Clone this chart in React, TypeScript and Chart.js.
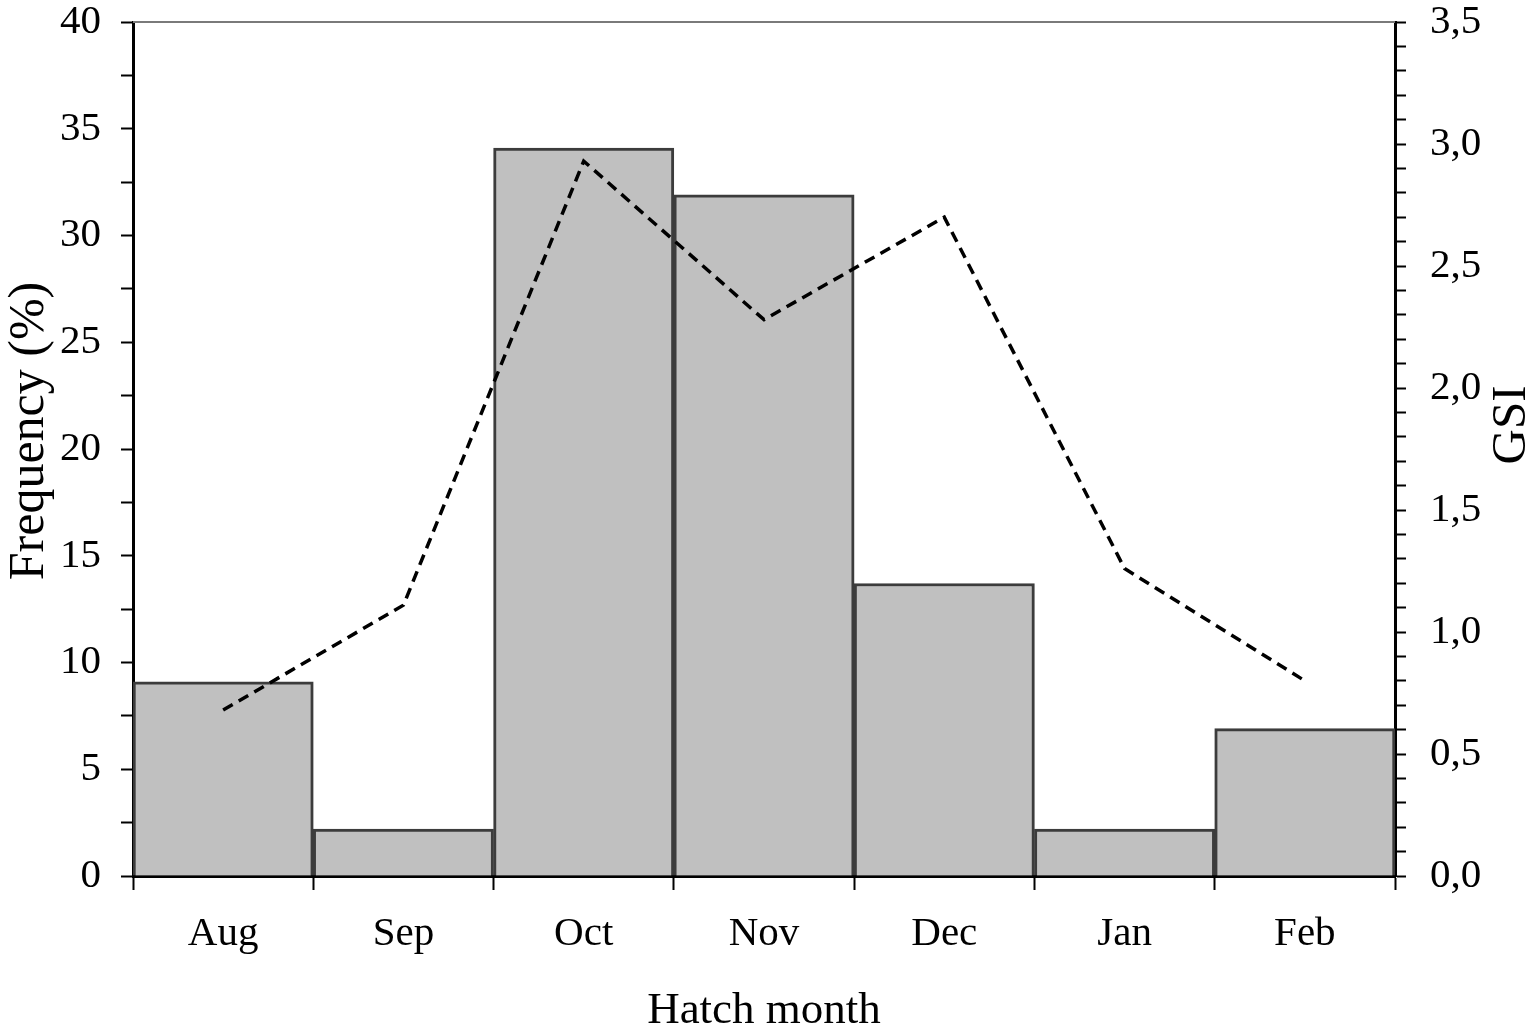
import { useEffect, useRef } from 'react';
import { Chart, registerables } from 'chart.js';

Chart.register(...registerables);

const months = ['Aug', 'Sep', 'Oct', 'Nov', 'Dec', 'Jan', 'Feb'];
const frequency = [9.1, 2.2, 34.1, 31.9, 13.7, 2.2, 6.9];
const gsi = [0.68, 1.11, 2.93, 2.28, 2.7, 1.26, 0.8];

const FONT = "'Liberation Serif', 'Times New Roman', serif";

const isMultiple = (v: number, step: number) =>
  Math.abs(v / step - Math.round(v / step)) < 1e-6;

// fixed axis widths, and no extra room reserved for the end labels
const fitY = (width: number) => (s: any) => {
  s.width = width;
  s.paddingTop = 0;
  s.paddingBottom = 0;
};

const drawVertical = (ctx: CanvasRenderingContext2D, text: string, x: number, y: number, size: number) => {
  ctx.save();
  ctx.translate(x, y);
  ctx.rotate(-Math.PI / 2);
  ctx.fillStyle = '#000';
  ctx.font = `${size}px ${FONT}`;
  ctx.textAlign = 'center';
  ctx.textBaseline = 'middle';
  ctx.fillText(text, 0, 0);
  ctx.restore();
};

// top frame line + both vertical axis titles (read bottom-to-top)
const framePlugin = {
  id: 'frame',
  afterDraw(chart: Chart) {
    const { ctx, chartArea } = chart;
    ctx.save();
    ctx.strokeStyle = '#7a7a7a';
    ctx.lineWidth = 2;
    ctx.beginPath();
    ctx.moveTo(chartArea.left, chartArea.top);
    ctx.lineTo(chartArea.right, chartArea.top);
    ctx.stroke();
    ctx.restore();

    drawVertical(ctx, 'Frequency (%)', 30, 431, 50);
    drawVertical(ctx, 'GSI', 1512, 425, 49);
  },
};

export default function App() {
  const canvasRef = useRef<HTMLCanvasElement>(null);
  const chartRef = useRef<Chart | null>(null);

  useEffect(() => {
    if (!canvasRef.current) return;
    if (chartRef.current) chartRef.current.destroy();

    chartRef.current = new Chart(canvasRef.current, {
      type: 'bar',
      data: {
        labels: months,
        datasets: [
          {
            type: 'line',
            label: 'GSI',
            data: gsi,
            yAxisID: 'y2',
            borderColor: '#000',
            borderWidth: 3.5,
            borderDash: [11, 7],
            pointRadius: 0,
            fill: false,
            tension: 0,
          },
          {
            type: 'bar',
            label: 'Frequency',
            data: frequency,
            yAxisID: 'y',
            backgroundColor: '#c0c0c0',
            borderColor: '#3c3c3c',
            borderWidth: 3,
            categoryPercentage: 1,
            barPercentage: 1,
          },
        ],
      },
      options: {
        responsive: true,
        maintainAspectRatio: false,
        animation: false,
        layout: { padding: { top: 22, left: 0, right: 0, bottom: 0 } },
        plugins: {
          legend: { display: false },
          tooltip: { enabled: false },
        },
        scales: {
          x: {
            offset: true,
            afterFit: (s: any) => { s.height = 155; },
            grid: {
              offset: true,
              drawOnChartArea: false,
              tickLength: 14,
              tickColor: '#000',
              tickWidth: 2,
            },
            border: { color: '#000', width: 3 },
            ticks: {
              color: '#000',
              font: { family: FONT, size: 41, lineHeight: 1.15 },
              padding: 21,
            },
            title: {
              display: true,
              text: 'Hatch month',
              color: '#000',
              font: { family: FONT, size: 45, lineHeight: 0.9 },
              padding: 0,
            },
          },
          y: {
            position: 'left',
            min: 0,
            max: 40,
            afterFit: fitY(133),
            grid: {
              drawOnChartArea: false,
              tickLength: 12,
              tickColor: '#000',
              tickWidth: 2,
            },
            border: { color: '#000', width: 3 },
            ticks: {
              stepSize: 2.5,
              autoSkip: false,
              maxTicksLimit: 100,
              color: '#000',
              font: { family: FONT, size: 41, lineHeight: 1.1 },
              padding: 20,
              callback: (v: any) => (isMultiple(Number(v), 5) ? String(v) : ''),
            },
          },
          y2: {
            position: 'right',
            min: 0,
            max: 3.5,
            afterFit: fitY(140),
            grid: {
              drawOnChartArea: false,
              tickLength: 11,
              tickColor: '#000',
              tickWidth: 2,
            },
            border: { color: '#000', width: 3 },
            ticks: {
              stepSize: 0.1,
              autoSkip: false,
              maxTicksLimit: 100,
              color: '#000',
              font: { family: FONT, size: 41, lineHeight: 1.1 },
              padding: 24,
              callback: (v: any) =>
                isMultiple(Number(v), 0.5) ? Number(v).toFixed(1).replace('.', ',') : '',
            },
          },
        },
      },
      plugins: [framePlugin],
    });

    return () => chartRef.current?.destroy();
  }, []);

  return (
    <div style={{ position: 'absolute', left: 0, top: 0, width: 1535, height: 1031, background: '#fff' }}>
      <canvas ref={canvasRef} />
    </div>
  );
}
